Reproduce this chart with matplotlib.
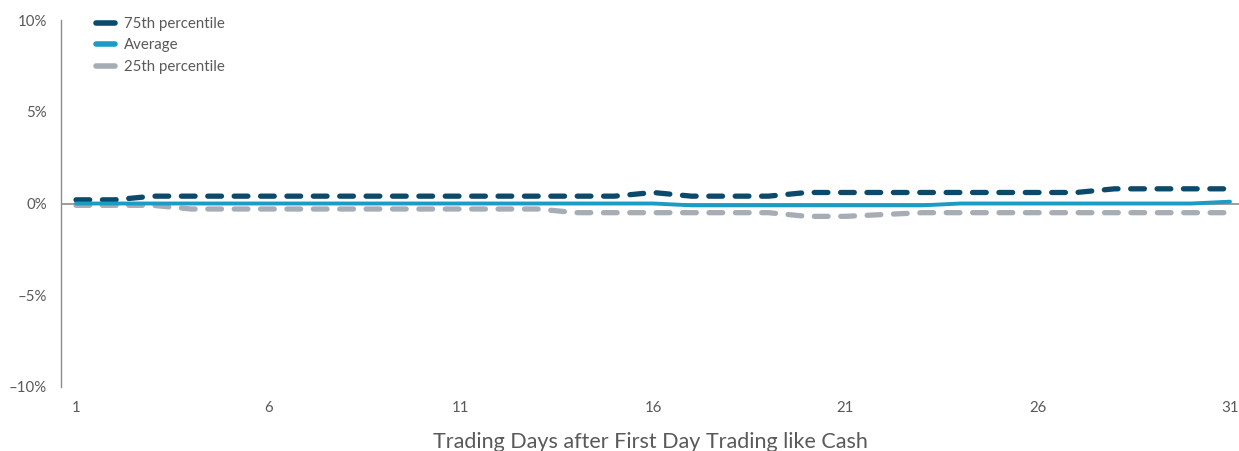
import numpy as np
import matplotlib.pyplot as plt
from matplotlib.lines import Line2D

days = list(range(1, 32))
p75 = [0.2, 0.2, 0.4, 0.4, 0.4, 0.4, 0.4, 0.4, 0.4, 0.4, 0.4, 0.4, 0.4, 0.4, 0.4, 0.6,
       0.4, 0.4, 0.4, 0.6, 0.6, 0.6, 0.6, 0.6, 0.6, 0.6, 0.6, 0.8, 0.8, 0.8, 0.8]
avg = [0.0, 0.0, 0.0, 0.0, 0.0, 0.0, 0.0, 0.0, 0.0, 0.0, 0.0, 0.0, 0.0, 0.0, 0.0, 0.0,
       -0.1, -0.1, -0.1, -0.1, -0.1, -0.1, -0.1, 0.0, 0.0, 0.0, 0.0, 0.0, 0.0, 0.0, 0.1]
p25 = [-0.1, -0.1, -0.1, -0.3, -0.3, -0.3, -0.3, -0.3, -0.3, -0.3, -0.3, -0.3, -0.3, -0.5, -0.5, -0.5,
       -0.5, -0.5, -0.5, -0.7, -0.7, -0.6, -0.5, -0.5, -0.5, -0.5, -0.5, -0.5, -0.5, -0.5, -0.5]

series_labels = ['75th percentile', 'Average', '25th percentile']
colors = ['#0b4a6b', '#1b9cc4', '#a7adb4']
yticks = [-10, -5, 0, 5, 10]
ytick_labels = ['\u201310%', '\u20135%', '0%', '5%', '10%']
xticks = [1, 6, 11, 16, 21, 26, 31]

plt.rcParams['font.family'] = ['Lato', 'DejaVu Sans']
text_col = '#595959'

fig = plt.figure(figsize=(12.39, 4.51), dpi=100)
ax = fig.add_axes([61 / 1239, 64 / 451, 1 - 61 / 1239, (387 - 20) / 451])

ax.axhline(0, color='#8c8c8c', lw=1.2, zorder=1)

for vals, c in [(p75, colors[0]), (p25, colors[2])]:
    ln, = ax.plot(days, vals, color=c, lw=3.8, dash_capstyle='round', zorder=3)
    ln.set_dashes((2.6, 2.4))
ax.plot(days, avg, color=colors[1], lw=2.8, solid_capstyle='round', zorder=4)

ax.set_xlim(1 - 15 / 38.47, 31 + 9 / 38.47)
ax.set_ylim(-10, 10)
ax.set_yticks(yticks)
ax.set_yticklabels(ytick_labels)
ax.set_xticks(xticks)
ax.tick_params(axis='both', length=0, labelsize=10.8, labelcolor=text_col)
ax.tick_params(axis='y', pad=10)
ax.tick_params(axis='x', pad=10)
for s in ['top', 'right', 'bottom']:
    ax.spines[s].set_visible(False)
ax.spines['left'].set_color('#8c8c8c')
ax.spines['left'].set_linewidth(1.0)

ax.set_xlabel('Trading Days after First Day Trading like Cash', fontsize=15.5,
              color=text_col, labelpad=12)

handles = [Line2D([0], [0], color=c, lw=4, solid_capstyle='round') for c in colors]
ax.legend(handles, series_labels, loc='upper left', bbox_to_anchor=(0.018, 1.045),
          frameon=False, fontsize=10.8, labelcolor=text_col, handlelength=1.3,
          handletextpad=0.6, labelspacing=0.5)

fig.savefig('out.png', dpi=100)
